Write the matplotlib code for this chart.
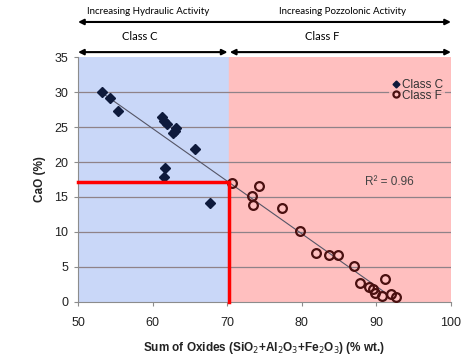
import matplotlib.pyplot as plt
import numpy as np

# Class C fly ash (sum of oxides vs CaO)
class_c_x = [53.2, 54.3, 55.3, 61.2, 61.5, 61.9, 62.8, 63.0, 63.1, 65.7, 61.6, 61.5, 67.7]
class_c_y = [30.0, 29.1, 27.3, 26.4, 25.8, 25.4, 24.1, 24.5, 24.8, 21.9, 19.2, 17.9, 14.2]

# Class F fly ash
class_f_x = [70.7, 74.3, 73.3, 73.4, 77.4, 79.8, 81.9, 83.6, 84.8, 87.0, 91.2, 87.8,
             89.0, 89.5, 89.8, 90.7, 91.9, 92.6]
class_f_y = [17.05, 16.6, 15.2, 13.8, 13.4, 10.1, 7.0, 6.7, 6.7, 5.2, 3.3, 2.7,
             2.2, 1.8, 1.3, 0.9, 1.15, 0.7]

boundary_x = 70.2
boundary_y = 17.1
r2_label = 'R² = 0.96'

fig = plt.figure(figsize=(4.63, 3.59), dpi=100)
ax = fig.add_axes([0.1685, 0.1588, 0.8055, 0.6824])

ax.axvspan(50, boundary_x, color='#c9d7f8', zorder=0)
ax.axvspan(boundary_x, 100, color='#ffbfbf', zorder=0)
for yv in range(5, 35, 5):
    ax.axhline(yv, color='#8f8288', lw=0.9, zorder=1)

# trend line over all points
all_x = np.array(class_c_x + class_f_x)
all_y = np.array(class_c_y + class_f_y)
slope, icpt = np.polyfit(all_x, all_y, 1)
xs = np.array([all_x.min(), 91.5])
ax.plot(xs, slope * xs + icpt, color='#555566', lw=0.8, zorder=2)

ax.plot(class_c_x, class_c_y, 'D', color='#0e1a3c', ms=5, zorder=4, label='Class C', linestyle='none')
ax.plot(class_f_x, class_f_y, 'o', mfc='none', mec='#4a1010', mew=1.6, ms=6.3, zorder=4,
        label='Class F', linestyle='none')

ax.plot([50, boundary_x, boundary_x], [boundary_y, boundary_y, 0], color='#ff0000', lw=2.5,
        zorder=5, clip_on=False, solid_joinstyle='miter')

ax.text(91.8, 17.1, r2_label, fontsize=8.5, color='#444444', ha='center', va='center', family='Liberation Sans')

leg = ax.legend(loc='upper right', bbox_to_anchor=(1.0, 0.945), frameon=True,
                handletextpad=0.05, labelspacing=-0.1, borderpad=0.2, handlelength=0.8,
                markerscale=0.7, prop={'family': 'Liberation Sans', 'size': 8.5})
leg.get_frame().set_facecolor('#ffbfbf')
leg.get_frame().set_edgecolor('none')
for t in leg.get_texts():
    t.set_color('#333333')

ax.set_xlim(50, 100)
ax.set_ylim(0, 35)
ax.set_xticks(range(50, 101, 10))
ax.set_yticks(range(0, 36, 5))
for s in ['top', 'right']:
    ax.spines[s].set_visible(False)
for s in ['left', 'bottom']:
    ax.spines[s].set_color('#8c8c8c')
ax.tick_params(direction='out', length=3, color='#8c8c8c', labelsize=9)
ax.tick_params(axis='x', pad=8)
ax.tick_params(axis='y', pad=4)
for lab in ax.get_xticklabels() + ax.get_yticklabels():
    lab.set_family('Liberation Sans')
    lab.set_color('#222222')

ax.set_xlabel('Sum of Oxides (SiO$_2$+Al$_2$O$_3$+Fe$_2$O$_3$) (% wt.)', fontsize=8.5,
              fontweight='bold', family='Liberation Sans', labelpad=8)
ax.set_ylabel('CaO (%)', fontsize=8.5, fontweight='bold', family='Liberation Sans', labelpad=6)
ax.xaxis.label.set_color('#222222')
ax.yaxis.label.set_color('#222222')

# arrows and labels above the plot
trans = ax.get_xaxis_transform()
arrow = dict(arrowstyle='-|>', color='black', lw=1.5, mutation_scale=8, shrinkA=0, shrinkB=0)
darrow = dict(arrowstyle='<|-|>', color='black', lw=1.5, mutation_scale=8, shrinkA=0, shrinkB=0)
ax.annotate('', xy=(50, 1.143), xytext=(boundary_x, 1.143), xycoords=trans, textcoords=trans,
            arrowprops=arrow, annotation_clip=False)
ax.annotate('', xy=(100, 1.143), xytext=(boundary_x, 1.143), xycoords=trans, textcoords=trans,
            arrowprops=arrow, annotation_clip=False)
ax.annotate('', xy=(50, 1.02), xytext=(boundary_x - 0.15, 1.02), xycoords=trans, textcoords=trans,
            arrowprops=darrow, annotation_clip=False)
ax.annotate('', xy=(boundary_x + 0.15, 1.02), xytext=(100, 1.02), xycoords=trans, textcoords=trans,
            arrowprops=darrow, annotation_clip=False)
ax.text(59.4, 1.184, 'Increasing Hydraulic Activity', transform=trans, ha='center', va='center',
        fontsize=7, family='Lato')
ax.text(85.4, 1.184, 'Increasing Pozzolonic Activity', transform=trans, ha='center', va='center',
        fontsize=7, family='Lato')
ax.text(58.3, 1.082, 'Class C', transform=trans, ha='center', va='center', fontsize=8, family='Lato')
ax.text(82.7, 1.082, 'Class F', transform=trans, ha='center', va='center', fontsize=8, family='Lato')

fig.savefig('out.png', dpi=100)
